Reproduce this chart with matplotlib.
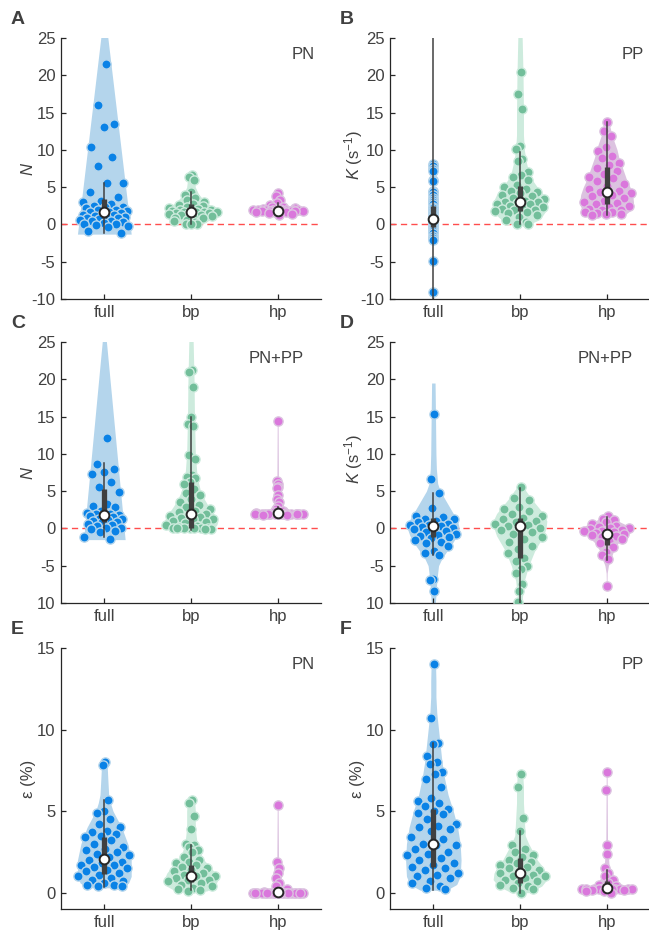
import numpy as np
import matplotlib
matplotlib.use('Agg')
from matplotlib import pyplot as plt

plt.rcParams['font.family'] = ['Liberation Sans', 'DejaVu Sans']
plt.rcParams['mathtext.fontset'] = 'custom'
plt.rcParams['mathtext.rm'] = 'Liberation Sans'
plt.rcParams['mathtext.it'] = 'Liberation Sans:italic'

groups = ['full', 'bp', 'hp']
colors = ['#0A82E6', '#72BE9A', '#DA77DC']
fills = ['#B4D5EC', '#CDEBDD', '#DCC3E0']

# ---------------- panel A (N, PN) ----------------
a_full = [21.5, 16.0, 13.5, 13.0, 10.4, 9.0, 7.9, 5.6, 5.6, 4.3, 3.7, 3.2, 3.0, 2.8, 2.5,
          2.4, 2.3, 2.2, 2.0, 1.9, 1.8, 1.7, 1.6, 1.5, 1.4, 1.3, 1.2, 1.1, 1.0, 1.0, 0.9,
          0.8, 0.7, 0.6, 0.5, 0.4, 0.3, 0.2, 0.1, 0.0, -0.1, -0.2, -0.4, -0.9, -1.2]
a_bp = [6.6, 6.3, 5.9, 4.3, 4.0, 3.6, 3.3, 3.0, 2.8, 2.6, 2.5, 2.3, 2.2, 2.1, 2.0, 1.9,
        1.8, 1.8, 1.7, 1.7, 1.6, 1.6, 1.5, 1.5, 1.4, 1.4, 1.3, 1.2, 1.1, 1.0, 0.9, 0.8,
        0.6, 0.5, 0.3, 0.1, 0.0, 0.0]
a_hp = [4.2, 3.8, 3.3, 2.9, 2.6, 2.4, 2.3, 2.2, 2.1, 2.1, 2.0, 2.0, 2.0, 2.0, 1.95, 1.9,
        1.9, 1.9, 1.85, 1.8, 1.8, 1.8, 1.8, 1.75, 1.7, 1.7, 1.6, 1.5, 1.4, 1.3]
a_full_vy, a_full_vw = [-1.3, 29.0], [0.31, 0.0]
a_bp_vy = [0.0, 0.5, 1.0, 1.6, 2.2, 3.0, 4.0, 5.0, 6.0, 6.7]
a_bp_vw = [0.10, 0.2, 0.28, 0.31, 0.27, 0.17, 0.09, 0.05, 0.04, 0.03]
a_hp_vy = [1.1, 1.5, 1.8, 2.0, 2.3, 2.8, 3.5, 4.2]
a_hp_vw = [0.05, 0.25, 0.31, 0.3, 0.18, 0.07, 0.03, 0.02]
# stats: low whisker, q1, median, q3, high whisker
a_stats = [[-1.2, 0.8, 1.65, 3.35, 5.6], [0.0, 1.1, 1.65, 2.7, 4.4], [1.1, 1.7, 1.85, 2.2, 2.9]]

# ---------------- panel B (K, PP) ----------------
b_full = [8.1, 7.8, 7.5, 7.2, 5.9, 5.8, 4.5, 4.3, 4.0, 3.6, 3.3, 3.0, 2.7, 2.4, 2.2, 1.9,
          1.7, 1.5, 1.3, 1.1, 0.9, 0.7, 0.5, 0.3, 0.1, -0.1, -0.3, -0.6, -0.9, -1.2, -1.5,
          -1.8, -2.1, -4.9, -9.1]
b_bp = [20.5, 17.5, 15.5, 10.5, 10.1, 8.8, 8.5, 7.0, 6.6, 6.3, 5.9, 5.3, 5.0, 4.7, 4.5,
        4.3, 4.2, 4.0, 3.8, 3.6, 3.4, 3.2, 3.0, 3.0, 2.9, 2.8, 2.7, 2.5, 2.4, 2.2, 2.1,
        2.0, 1.9, 1.8, 1.6, 1.5, 1.2, 1.0, 0.6, 0.3, 0.0, 0.0]
b_hp = [13.8, 12.5, 11.9, 10.4, 9.9, 9.2, 8.9, 8.3, 8.0, 7.6, 7.2, 6.8, 6.4, 6.2, 5.8,
        5.4, 5.1, 4.8, 4.5, 4.4, 4.2, 4.0, 3.8, 3.5, 3.2, 3.0, 2.9, 2.7, 2.5, 2.3, 2.1,
        2.0, 1.9, 1.7, 1.6, 1.5, 1.4, 1.4, 1.3]
b_full_vy, b_full_vw = [-9.2, 8.2], [0.0, 0.0]
b_bp_vy = [0.0, 0.5, 1.0, 2.0, 3.0, 4.0, 5.0, 6.0, 7.0, 8.5, 10, 12, 15, 20, 25, 27.5]
b_bp_vw = [0.10, 0.2, 0.25, 0.31, 0.31, 0.27, 0.2, 0.14, 0.1, 0.07, 0.05, 0.04, 0.04, 0.035, 0.025, 0.0]
b_hp_vy = [1.2, 2.0, 3.0, 4.0, 5.0, 6.0, 7.0, 8.0, 9.0, 10, 11, 12, 13, 13.9]
b_hp_vw = [0.2, 0.29, 0.31, 0.3, 0.27, 0.23, 0.2, 0.17, 0.14, 0.12, 0.09, 0.06, 0.04, 0.02]
b_stats = [[-12, -0.3, 0.7, 2.45, 30], [0.0, 1.8, 3.05, 5.2, 9.7], [1.25, 2.8, 4.4, 7.7, 13.75]]

# ---------------- panel C (N, PN+PP) ----------------
c_full = [12.1, 8.7, 8.0, 7.6, 7.3, 6.2, 5.5, 4.9, 3.3, 3.0, 2.9, 2.4, 2.1, 2.0, 1.9, 1.8,
          1.7, 1.6, 1.5, 1.3, 1.2, 1.1, 1.0, 0.9, 0.8, 0.6, 0.5, 0.3, 0.1, 0.0, -0.1, -0.4,
          -0.5, -1.1, -1.4]
c_bp = [21.3, 21.0, 19.0, 14.9, 14.0, 13.7, 9.8, 9.3, 7.1, 6.9, 6.7, 6.2, 6.0, 5.3, 4.8,
        4.5, 3.9, 3.5, 3.2, 2.9, 2.6, 2.4, 2.2, 2.0, 1.8, 1.6, 1.5, 1.4, 1.3, 1.2, 1.0,
        0.9, 0.7, 0.5, 0.3, 0.2, 0.1, 0.0, 0.0, 0.0, 0.0, -0.1, 0.0, 0.0, -0.1]
c_hp = [14.4, 6.3, 6.0, 5.6, 5.4, 4.5, 4.0, 3.5, 3.0, 2.6, 2.4, 2.2, 2.1, 2.05, 2.0, 2.0,
        2.0, 2.0, 2.0, 2.0, 2.0, 2.0, 2.0, 2.0, 2.0, 2.0, 1.95, 1.95, 1.9, 1.9, 1.85, 1.8]
c_full_vy, c_full_vw = [-1.5, 28.0], [0.24, 0.0]
c_bp_vy = [-0.2, 0.5, 1.0, 2.0, 3.0, 4.0, 5.0, 7.0, 10, 15, 20, 25, 27.5]
c_bp_vw = [0.25, 0.3, 0.31, 0.26, 0.2, 0.15, 0.11, 0.07, 0.05, 0.04, 0.035, 0.025, 0.0]
c_hp_vy = [1.6, 1.85, 2.0, 2.15, 2.5, 3.0, 5.0, 14.5]
c_hp_vw = [0.02, 0.25, 0.31, 0.25, 0.04, 0.015, 0.01, 0.005]
c_stats = [[-1.2, 0.9, 1.8, 5.3, 8.8], [-0.2, 0.0, 2.0, 6.2, 14.9], [1.7, 1.9, 2.05, 2.6, 2.9]]

# ---------------- panel D (K, PN+PP) ----------------
d_full = [15.4, 6.6, 4.8, 2.7, 1.6, 1.5, 1.3, 1.2, 1.0, 0.8, 0.6, 0.5, 0.4, 0.3, 0.2, 0.1,
          0.0, -0.1, -0.3, -0.5, -0.7, -0.9, -1.0, -1.1, -1.3, -1.5, -1.8, -2.0, -2.3, -3.0,
          -3.3, -3.6, -6.8, -6.9, -8.4]
d_bp = [5.5, 4.1, 3.8, 2.9, 2.6, 2.3, 2.0, 1.6, 1.4, 1.2, 1.0, 0.8, 0.6, 0.5, 0.3, 0.1,
        0.0, -0.2, -0.5, -0.8, -1.1, -1.4, -1.8, -2.4, -2.8, -3.3, -3.9, -4.4, -5.0, -5.4,
        -6.0, -7.5, -8.4, -9.9]
d_hp = [1.6, 1.3, 1.1, 0.9, 0.6, 0.3, 0.2, 0.1, 0.0, -0.1, -0.2, -0.3, -0.4, -0.5, -0.6,
        -0.7, -0.8, -0.9, -1.0, -1.2, -1.4, -1.7, -2.0, -2.5, -3.2, -3.6, -4.1, -7.7]
d_full_vy = [-10.5, -9, -7, -5, -4, -3, -2, -1, 0, 1, 2, 3, 4, 5, 6, 8, 10, 15, 19.5]
d_full_vw = [0.02, 0.03, 0.04, 0.06, 0.1, 0.16, 0.22, 0.27, 0.3, 0.28, 0.23, 0.18, 0.13,
             0.08, 0.05, 0.035, 0.03, 0.025, 0.02]
d_bp_vy = [-10.5, -9, -7, -5, -3, -2, -1, 0, 1, 2, 3, 4, 5, 5.6]
d_bp_vw = [0.02, 0.03, 0.05, 0.1, 0.17, 0.22, 0.27, 0.3, 0.31, 0.27, 0.2, 0.13, 0.07, 0.03]
d_hp_vy = [-7.8, -6, -5, -4, -3, -2, -1, -0.5, 0, 0.5, 1, 1.6]
d_hp_vw = [0.003, 0.006, 0.02, 0.05, 0.08, 0.13, 0.22, 0.28, 0.3, 0.22, 0.13, 0.05]
d_stats = [[-3.5, -1.2, 0.35, 1.4, 4.7], [-10.5, -4.0, 0.3, 1.4, 5.4], [-4.2, -2.2, -0.8, -0.4, 1.5]]

# ---------------- panel E (eps, PN) ----------------
e_full = [8.0, 7.8, 5.7, 5.0, 4.9, 4.5, 4.2, 4.0, 3.8, 3.7, 3.6, 3.5, 3.4, 3.2, 3.0, 2.8,
          2.7, 2.6, 2.5, 2.4, 2.3, 2.2, 2.0, 1.9, 1.8, 1.7, 1.7, 1.6, 1.5, 1.4, 1.3, 1.2,
          1.1, 1.0, 0.9, 0.8, 0.7, 0.6, 0.5, 0.45, 0.4, 0.4]
e_bp = [5.7, 5.5, 4.7, 3.9, 3.0, 2.9, 2.8, 2.6, 2.5, 2.2, 2.0, 1.9, 1.8, 1.7, 1.6, 1.5,
        1.4, 1.3, 1.2, 1.1, 1.0, 1.0, 0.9, 0.8, 0.8, 0.7, 0.6, 0.5, 0.4, 0.3, 0.2, 0.15, 0.1]
e_hp = [5.4, 1.9, 1.5, 1.2, 0.9, 0.6, 0.4, 0.2, 0.1, 0.05, 0.0, 0.0, 0.0, 0.0, 0.0, 0.0,
        0.0, 0.0, 0.0, 0.0, 0.0, 0.0, 0.0, 0.0, 0.0, 0.0, 0.0, 0.0, 0.0, 0.0]
e_full_vy = [0.3, 0.6, 1.0, 2.0, 3.0, 4.0, 4.5, 5.0, 5.5, 6.0, 7.0, 8.1]
e_full_vw = [0.2, 0.28, 0.31, 0.31, 0.27, 0.2, 0.15, 0.1, 0.07, 0.05, 0.04, 0.03]
e_bp_vy = [0.1, 0.4, 0.8, 1.2, 1.6, 2.0, 2.5, 3.0, 4.0, 5.0, 5.8]
e_bp_vw = [0.18, 0.28, 0.31, 0.28, 0.22, 0.15, 0.1, 0.07, 0.05, 0.05, 0.04]
e_hp_vy = [-0.05, 0.0, 0.1, 0.3, 0.6, 1.0, 2.0, 5.4]
e_hp_vw = [0.1, 0.31, 0.2, 0.05, 0.03, 0.02, 0.01, 0.005]
e_stats = [[0.35, 1.15, 2.05, 3.4, 5.7], [0.15, 0.65, 1.05, 1.7, 2.9], [0.0, 0.0, 0.02, 0.1, 0.25]]

# ---------------- panel F (eps, PP) ----------------
f_full = [14.0, 10.7, 9.2, 9.1, 8.4, 8.0, 7.9, 7.4, 7.3, 7.0, 6.5, 5.8, 5.6, 5.5, 5.3,
          5.1, 5.0, 4.9, 4.8, 4.5, 4.2, 4.1, 4.0, 3.9, 3.8, 3.4, 3.3, 3.0, 2.9, 2.9, 2.7,
          2.5, 2.4, 2.3, 2.1, 2.0, 1.8, 1.7, 1.6, 1.5, 1.4, 1.2, 1.1, 1.0, 0.9, 0.7, 0.6,
          0.4, 0.3, 0.2]
f_bp = [7.3, 6.5, 4.6, 3.8, 2.9, 2.7, 2.5, 2.3, 2.2, 2.0, 1.9, 1.8, 1.7, 1.6, 1.5, 1.4,
        1.3, 1.2, 1.1, 1.0, 1.0, 0.9, 0.8, 0.7, 0.6, 0.5, 0.4, 0.3, 0.2, 0.0]
f_hp = [7.4, 6.3, 2.9, 2.4, 1.5, 1.2, 1.0, 0.8, 0.6, 0.5, 0.4, 0.3, 0.2, 0.2, 0.2, 0.2,
        0.2, 0.2, 0.2, 0.2, 0.2, 0.2, 0.15, 0.15, 0.1, 0.1, 0.0]
f_full_vy = [0.15, 0.5, 1, 2, 3, 4, 5, 6, 7, 8, 9, 10, 11, 12, 13, 14.1]
f_full_vw = [0.15, 0.27, 0.31, 0.32, 0.31, 0.28, 0.23, 0.17, 0.13, 0.1, 0.08, 0.06, 0.04,
             0.03, 0.03, 0.025]
f_bp_vy = [0.0, 0.4, 0.8, 1.2, 1.6, 2.0, 2.5, 3.0, 3.5, 4.5, 5.5, 6.5, 7.4]
f_bp_vw = [0.1, 0.25, 0.31, 0.3, 0.26, 0.2, 0.15, 0.1, 0.06, 0.05, 0.04, 0.04, 0.03]
f_hp_vy = [0.0, 0.1, 0.2, 0.35, 0.6, 1.0, 1.5, 3.0, 7.4]
f_hp_vw = [0.12, 0.28, 0.31, 0.2, 0.1, 0.06, 0.03, 0.01, 0.005]
f_stats = [[0.15, 1.6, 3.0, 5.15, 9.15], [0.0, 0.6, 1.2, 2.1, 3.8], [0.0, 0.2, 0.3, 0.7, 1.4]]

k_ticks = [-10, -5, 0, 5, 10, 15, 20, 25]
k_ticklabels_ab = ['-10', '-5', '0', '5', '10', '15', '20', '25']
k_ticklabels_cd = ['10', '-5', '0', '5', '10', '15', '20', '25']
e_ticks = [0, 5, 10, 15]


def draw_violin(ax, pos, pts, vy, vw, stats, k):
    # violin body
    yy = np.linspace(vy[0], vy[-1], 300)
    ww = np.interp(yy, vy, vw)
    ax.fill_betweenx(yy, pos - ww, pos + ww, color=fills[k], lw=0, zorder=1)
    # deterministic jitter scaled by violin width
    pts = np.array(pts, dtype=float)
    seq = (np.arange(1, len(pts) + 1) * 0.6180339887) % 1 * 2 - 1
    xs = pos + seq * np.interp(pts, vy, vw, left=0, right=0)
    ax.scatter(xs, pts, s=44, color=colors[k], edgecolors=fills[k], linewidths=1.0, zorder=3)
    # box, whisker, median
    wlo, q1, med, q3, whi = stats
    ax.plot([pos, pos], [wlo, whi], color='#404040', lw=1.1, zorder=4)
    ax.plot([pos, pos], [q1, q3], color='#404040', lw=3.8, solid_capstyle='butt', zorder=4)
    ax.plot(pos, med, 'o', mfc='white', mec='#262626', mew=1.4, ms=7, zorder=5)


fig = plt.figure(figsize=(6.49, 9.34), dpi=100)
W, H = 649.0, 934.0

panels = [
    ('A', 61, 38, [a_full, a_bp, a_hp], [(a_full_vy, a_full_vw), (a_bp_vy, a_bp_vw), (a_hp_vy, a_hp_vw)], a_stats, 'N', 'PN'),
    ('B', 390, 38, [b_full, b_bp, b_hp], [(b_full_vy, b_full_vw), (b_bp_vy, b_bp_vw), (b_hp_vy, b_hp_vw)], b_stats, 'K', 'PP'),
    ('C', 61, 342, [c_full, c_bp, c_hp], [(c_full_vy, c_full_vw), (c_bp_vy, c_bp_vw), (c_hp_vy, c_hp_vw)], c_stats, 'N', 'PN+PP'),
    ('D', 390, 342, [d_full, d_bp, d_hp], [(d_full_vy, d_full_vw), (d_bp_vy, d_bp_vw), (d_hp_vy, d_hp_vw)], d_stats, 'K', 'PN+PP'),
    ('E', 61, 648, [e_full, e_bp, e_hp], [(e_full_vy, e_full_vw), (e_bp_vy, e_bp_vw), (e_hp_vy, e_hp_vw)], e_stats, 'E', 'PN'),
    ('F', 390, 648, [f_full, f_bp, f_hp], [(f_full_vy, f_full_vw), (f_bp_vy, f_bp_vw), (f_hp_vy, f_hp_vw)], f_stats, 'E', 'PP'),
]

for letter, left, top, data, profiles, stats, kind, tag in panels:
    ax = fig.add_axes([left / W, 1 - (top + 261) / H, 260 / W, 261 / H])
    for k in range(3):
        draw_violin(ax, k + 1, data[k], profiles[k][0], profiles[k][1], stats[k], k)
    ax.set_xlim(0.5, 3.5)
    if kind == 'E':
        ax.set_ylim(-1, 15)
        ax.set_yticks(e_ticks)
        ax.set_ylabel('ε (%)', fontsize=12, color='#404040')
    else:
        ax.set_ylim(-10, 25)
        ax.set_yticks(k_ticks)
        if letter in 'AB':
            ax.set_yticklabels(k_ticklabels_ab)
        else:
            ax.set_yticklabels(k_ticklabels_cd)
        ax.axhline(0, color='#FF4D4D', ls=(0, (4.5, 3)), lw=1.0, zorder=2)
        if kind == 'N':
            ax.set_ylabel('$N$', fontsize=12, color='#404040')
        else:
            ax.set_ylabel('$K$ (s$^{-1}$)', fontsize=12, color='#404040')
    ax.yaxis.set_label_coords(-0.095, 0.5 if kind != 'K' else 0.55)
    ax.set_xticks([1, 2, 3])
    ax.set_xticklabels(groups)
    for s in ['top', 'right']:
        ax.spines[s].set_visible(False)
    for s in ['left', 'bottom']:
        ax.spines[s].set_color('#262626')
        ax.spines[s].set_linewidth(0.9)
    ax.tick_params(direction='in', length=3.5, width=0.9, color='#262626',
                   labelsize=12, labelcolor='#404040', pad=4)
    ax.text(0.977 if tag != 'PN+PP' else 0.935, 0.935, tag, transform=ax.transAxes,
            ha='right', va='center', fontsize=12, color='#404040')
    fig.text((left - 50) / W, 1 - (top - 18) / H, letter, fontsize=14, fontweight='bold',
             color='#404040', ha='left', va='center')

plt.savefig('out.png', dpi=100)
